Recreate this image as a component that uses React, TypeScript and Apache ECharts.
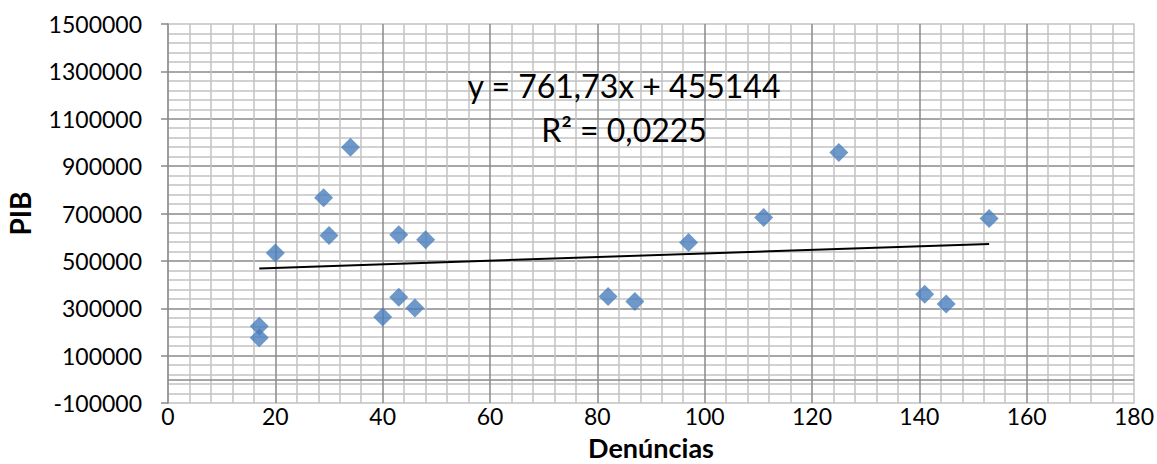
import { useEffect, useRef } from "react";
import * as echarts from "echarts";

// Denúncias (x) and PIB (y) for each observation
const denuncias = [17, 17, 20, 29, 30, 34, 40, 43, 43, 46, 48, 82, 87, 97, 111, 125, 141, 145, 153];
const pib = [224000, 175000, 533000, 766000, 607000, 980000, 263000, 346000, 610000, 301000, 589000, 350000, 329000, 578000, 683000, 957000, 359000, 318000, 679000];

// Linear trendline coefficients
const slope = 761.73;
const intercept = 455144;
const rSquared = 0.0225;

const xTicks = { min: 0, max: 180, interval: 20 };
const yTicks = { min: -100000, max: 1500000, interval: 200000 };

const FONT = "Lato, Carlito, Calibri, sans-serif";
const MAJOR = "#8a8a8a";
const MINOR = "#c2c2c2";

const fmt = (v: number) => String(v).replace(".", ",");

export default function App() {
  const ref = useRef<HTMLDivElement>(null);

  useEffect(() => {
    if (!ref.current) return;
    const chart = echarts.init(ref.current, undefined, { renderer: "svg" });

    const points = denuncias.map((x, i) => [x, pib[i]]);
    const xMin = Math.min(...denuncias);
    const xMax = Math.max(...denuncias);
    const trend = [
      [xMin, slope * xMin + intercept],
      [xMax, slope * xMax + intercept],
    ];

    chart.setOption({
      animation: false,
      backgroundColor: "#ffffff",
      grid: {
        left: 168,
        right: 23,
        top: 24,
        bottom: 61,
        show: true,
        borderColor: MINOR,
        borderWidth: 1.5,
        containLabel: false,
        outerBoundsMode: "none",
      },
      xAxis: {
        type: "value",
        min: xTicks.min,
        max: xTicks.max,
        interval: xTicks.interval,
        name: "Denúncias",
        nameLocation: "middle",
        nameGap: 31,
        nameTextStyle: { fontFamily: FONT, fontWeight: "bold", fontSize: 27, lineHeight: 27, color: "#000" },
        axisLine: { show: false },
        axisTick: { show: false },
        axisLabel: { fontFamily: FONT, fontSize: 23, color: "#000", margin: 1 },
        splitLine: { show: true, showMinLine: false, showMaxLine: false, lineStyle: { color: MAJOR, width: 1.5 } },
        minorTick: { show: false, splitNumber: 5 },
        minorSplitLine: { show: true, lineStyle: { color: MINOR, width: 1.5 } },
      },
      yAxis: {
        type: "value",
        min: yTicks.min,
        max: yTicks.max,
        interval: yTicks.interval,
        name: "PIB",
        nameLocation: "middle",
        nameRotate: 90,
        nameGap: 134,
        nameTextStyle: { fontFamily: FONT, fontWeight: "bold", fontSize: 28, color: "#000" },
        axisLine: { show: true, lineStyle: { color: MAJOR, width: 1.5 } },
        axisTick: { show: true, inside: false, length: 7, lineStyle: { color: MAJOR, width: 1.5 } },
        axisLabel: {
          fontFamily: FONT,
          fontSize: 23,
          color: "#000",
          margin: 26,
          formatter: (v: number) => String(v),
        },
        splitLine: { show: true, showMinLine: false, showMaxLine: false, lineStyle: { color: MAJOR, width: 1.5 } },
        minorTick: { show: false, splitNumber: 5 },
        minorSplitLine: { show: true, lineStyle: { color: MINOR, width: 1.5 } },
      },
      series: [
        {
          type: "scatter",
          data: points,
          symbol: "diamond",
          symbolSize: 19,
          itemStyle: { color: "#4a7ebb" },
          markLine: {
            silent: true,
            symbol: "none",
            label: { show: false },
            lineStyle: { color: MAJOR, width: 1.5, type: "solid" },
            data: [{ yAxis: 0 }],
          },
          z: 3,
        },
        {
          type: "line",
          data: trend,
          showSymbol: false,
          symbol: "none",
          lineStyle: { color: "#000", width: 2 },
          z: 4,
        },
      ],
      graphic: [
        {
          type: "text",
          x: 624,
          y: 85,
          z: 10,
          style: {
            text: `y = ${fmt(slope)}x + ${intercept}`,
            fontFamily: FONT,
            fontSize: 32,
            fill: "#000",
            align: "center",
            verticalAlign: "middle",
          },
        },
        {
          type: "text",
          x: 624,
          y: 129,
          z: 10,
          style: {
            text: `R² = ${fmt(rSquared)}`,
            fontFamily: FONT,
            fontSize: 32,
            fill: "#000",
            align: "center",
            verticalAlign: "middle",
          },
        },
      ],
    });

    return () => chart.dispose();
  }, []);

  return (
    <div
      ref={ref}
      style={{ position: "fixed", left: 0, top: 0, width: 1157, height: 464 }}
    />
  );
}
